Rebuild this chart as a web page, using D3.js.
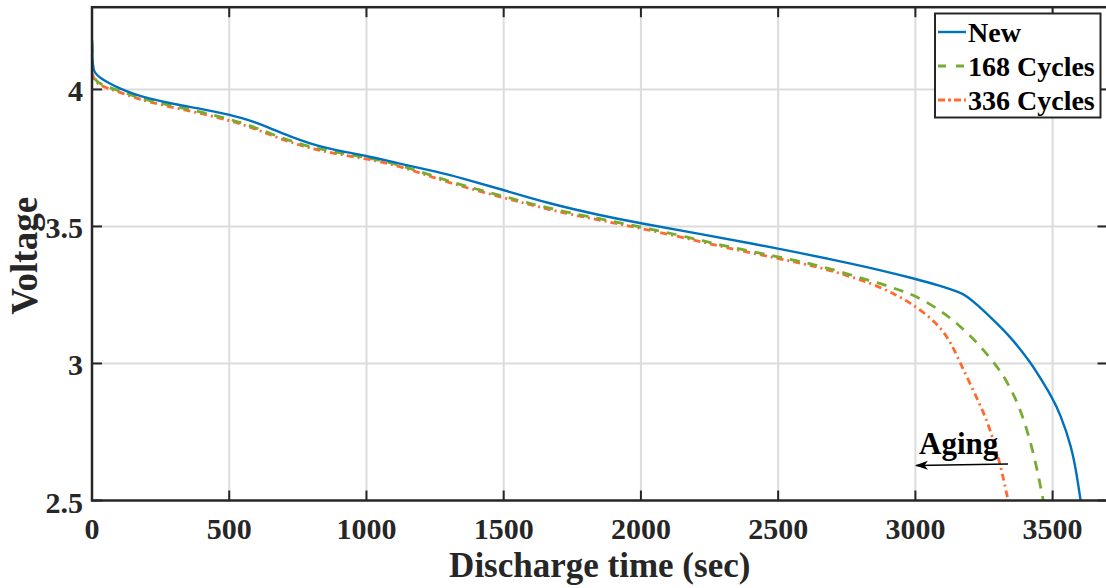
<!DOCTYPE html>
<html>
<head>
<meta charset="utf-8">
<script src="https://cdn.jsdelivr.net/npm/d3@7/dist/d3.min.js"></script>
<style>
  html, body { margin: 0; padding: 0; background: #fff; }
  svg { display: block; font-family: "Liberation Serif", "Times New Roman", serif; }
</style>
</head>
<body>
<svg id="chart" width="1106" height="588"></svg>
<script>
// Discharge curves: time (s) vs terminal voltage (V)
const seriesNames = ["New", "168 Cycles", "336 Cycles"];
const seriesColors = ["#0072BD", "#77AC30", "#FF6A2E"];

const timeNew = [0, 2, 10, 30, 60, 100, 150, 200, 300, 400, 500, 580, 650, 720, 790, 870, 1000, 1120, 1270, 1340, 1500, 1670, 1850, 2000, 2180, 2500, 2760, 2870, 3000, 3090, 3160, 3185, 3230, 3270, 3345, 3423, 3460, 3497, 3527, 3569, 3587, 3602];
const voltNew = [4.18, 4.08, 4.06, 4.042, 4.024, 4.004, 3.984, 3.968, 3.946, 3.929, 3.908, 3.886, 3.858, 3.829, 3.804, 3.781, 3.758, 3.729, 3.697, 3.678, 3.633, 3.582, 3.541, 3.511, 3.479, 3.420, 3.366, 3.341, 3.309, 3.284, 3.260, 3.248, 3.210, 3.172, 3.100, 3.000, 2.939, 2.878, 2.818, 2.696, 2.600, 2.500];

const time168 = [0, 3, 10, 30, 60, 100, 150, 200, 300, 400, 500, 580, 650, 720, 790, 870, 1000, 1120, 1300, 1500, 1670, 1850, 2000, 2180, 2290, 2500, 2650, 2800, 2870, 2940, 3000, 3090, 3160, 3235, 3308, 3338, 3362, 3393, 3435, 3466];
const volt168 = [4.17, 4.06, 4.035, 4.02, 4.008, 3.995, 3.977, 3.961, 3.938, 3.917, 3.892, 3.867, 3.839, 3.813, 3.792, 3.773, 3.752, 3.727, 3.663, 3.610, 3.564, 3.528, 3.498, 3.459, 3.432, 3.389, 3.358, 3.312, 3.293, 3.268, 3.248, 3.195, 3.140, 3.067, 2.976, 2.925, 2.878, 2.805, 2.659, 2.500];

const time336 = [0, 10, 30, 60, 100, 150, 200, 300, 400, 500, 580, 650, 720, 790, 870, 1000, 1120, 1300, 1500, 1670, 1850, 2000, 2180, 2290, 2500, 2650, 2800, 2870, 2930, 2980, 3035, 3090, 3130, 3162, 3200, 3240, 3271, 3308, 3338];
const volt336 = [4.06, 4.03, 4.015, 4.003, 3.99, 3.972, 3.956, 3.933, 3.912, 3.887, 3.862, 3.834, 3.808, 3.787, 3.768, 3.747, 3.722, 3.658, 3.605, 3.559, 3.523, 3.493, 3.454, 3.427, 3.383, 3.352, 3.306, 3.279, 3.250, 3.222, 3.183, 3.134, 3.075, 3.005, 2.925, 2.840, 2.765, 2.640, 2.500];

const xTicks = [0, 500, 1000, 1500, 2000, 2500, 3000, 3500];
const yTicks = [2.5, 3, 3.5, 4];
const yTickLabels = ["2.5", "3", "3.5", "4"];

const xLabel = "Discharge time (sec)";
const yLabel = "Voltage";
const noteText = "Aging";

const svg = d3.select("#chart");
const L = 92, R = 1107.5, T = 7.2, B = 500.5;

const x = d3.scaleLinear().domain([0, 3700]).range([L, R]);
const y = d3.scaleLinear().domain([2.5, 4.3]).range([B, T]);

const axisColor = "#262626";
const gridColor = "#dcdcdc";

// grid
const grid = svg.append("g");
grid.selectAll("line.gx").data(xTicks.filter(d => d > 0)).join("line")
  .attr("x1", d => x(d)).attr("x2", d => x(d))
  .attr("y1", T).attr("y2", B)
  .attr("stroke", gridColor).attr("stroke-width", 2);
grid.selectAll("line.gy").data(yTicks.filter(d => d > 2.5)).join("line")
  .attr("x1", L).attr("x2", R)
  .attr("y1", d => y(d)).attr("y2", d => y(d))
  .attr("stroke", gridColor).attr("stroke-width", 2);

// data lines
const defs = svg.append("defs");
defs.append("clipPath").attr("id", "plotClip")
  .append("rect").attr("x", L).attr("y", T).attr("width", R - L).attr("height", B - T);

const line = d3.line().x(d => x(d[0])).y(d => y(d[1])).curve(d3.curveBasis);
const zipSeries = (t, v) => t.map((d, i) => [d, v[i]]);
const series = [
  { name: seriesNames[0], pts: zipSeries(timeNew, voltNew), color: seriesColors[0], dash: null, width: 2.4, legendDash: null },
  { name: seriesNames[1], pts: zipSeries(time168, volt168), color: seriesColors[1], dash: "10,8", width: 2.8, legendDash: "8,10" },
  { name: seriesNames[2], pts: zipSeries(time336, volt336), color: seriesColors[2], dash: "7,4,2,4", width: 2.8, legendDash: "7,3,3,3" }
];

const plot = svg.append("g").attr("clip-path", "url(#plotClip)");
[series[2], series[1], series[0]].forEach(s => {
  plot.append("path")
    .attr("d", line(s.pts))
    .attr("fill", "none")
    .attr("stroke", s.color)
    .attr("stroke-width", s.width)
    .attr("stroke-dasharray", s.dash)
    .attr("stroke-linejoin", "round");
});

// axes box with inward ticks on all sides
const axes = svg.append("g");
const tickLen = 10;
axes.selectAll("line.tb").data(xTicks).join("line")
  .attr("x1", d => x(d)).attr("x2", d => x(d))
  .attr("y1", B).attr("y2", B - tickLen)
  .attr("stroke", axisColor).attr("stroke-width", 2);
axes.selectAll("line.tt").data(xTicks).join("line")
  .attr("x1", d => x(d)).attr("x2", d => x(d))
  .attr("y1", T).attr("y2", T + tickLen)
  .attr("stroke", axisColor).attr("stroke-width", 2);
axes.selectAll("line.tl").data(yTicks).join("line")
  .attr("x1", L).attr("x2", L + tickLen)
  .attr("y1", d => y(d)).attr("y2", d => y(d))
  .attr("stroke", axisColor).attr("stroke-width", 2);
axes.selectAll("line.tr").data(yTicks).join("line")
  .attr("x1", R).attr("x2", R - tickLen)
  .attr("y1", d => y(d)).attr("y2", d => y(d))
  .attr("stroke", axisColor).attr("stroke-width", 2);
axes.append("rect")
  .attr("x", L).attr("y", T).attr("width", R - L).attr("height", B - T)
  .attr("fill", "none").attr("stroke", axisColor).attr("stroke-width", 2.5);

// tick labels
svg.append("g").selectAll("text").data(xTicks).join("text")
  .attr("x", d => x(d)).attr("y", 539)
  .attr("text-anchor", "middle")
  .attr("font-size", 30).attr("font-weight", "bold").attr("fill", axisColor)
  .text(d => d3.format("d")(d));
svg.append("g").selectAll("text").data(yTicks).join("text")
  .attr("x", 83).attr("y", d => y(d) + 12)
  .attr("text-anchor", "end")
  .attr("font-size", 30).attr("font-weight", "bold").attr("fill", axisColor)
  .text((d, i) => yTickLabels[i]);

// axis titles
svg.append("text")
  .attr("x", (L + R) / 2).attr("y", 577)
  .attr("text-anchor", "middle")
  .attr("font-size", 35).attr("font-weight", "bold").attr("fill", axisColor)
  .text(xLabel);
svg.append("text")
  .attr("transform", `translate(37,${(T + B) / 2 + 2}) rotate(-90)`)
  .attr("text-anchor", "middle")
  .attr("font-size", 37).attr("font-weight", "bold").attr("fill", axisColor)
  .text(yLabel);

// aging annotation
defs.append("marker")
  .attr("id", "arrowHead").attr("viewBox", "0 0 13 10")
  .attr("refX", 12).attr("refY", 5)
  .attr("markerWidth", 13).attr("markerHeight", 10)
  .attr("markerUnits", "userSpaceOnUse")
  .attr("orient", "auto")
  .append("path").attr("d", "M0,0.5 L13,5 L0,9.5 L3.5,5 Z").attr("fill", "#000");
svg.append("line")
  .attr("x1", 1008).attr("y1", 464).attr("x2", 916).attr("y2", 465.5)
  .attr("stroke", "#000").attr("stroke-width", 1.6)
  .attr("marker-end", "url(#arrowHead)");
svg.append("text")
  .attr("x", 919).attr("y", 454)
  .attr("font-size", 31).attr("font-weight", "bold").attr("fill", "#000")
  .text(noteText);

// legend
const lg = svg.append("g");
lg.append("rect")
  .attr("x", 935).attr("y", 13.5).attr("width", 165.5).attr("height", 104)
  .attr("fill", "#fff").attr("stroke", axisColor).attr("stroke-width", 2);
series.forEach((s, i) => {
  const by = 42 + i * 34;
  lg.append("line")
    .attr("x1", 938).attr("x2", 966)
    .attr("y1", by - 10).attr("y2", by - 10)
    .attr("stroke", s.color).attr("stroke-width", s.width)
    .attr("stroke-dasharray", s.legendDash);
  lg.append("text")
    .attr("x", 968).attr("y", by)
    .attr("font-size", 28).attr("font-weight", "bold").attr("fill", "#000")
    .text(s.name);
});
</script>
</body>
</html>
